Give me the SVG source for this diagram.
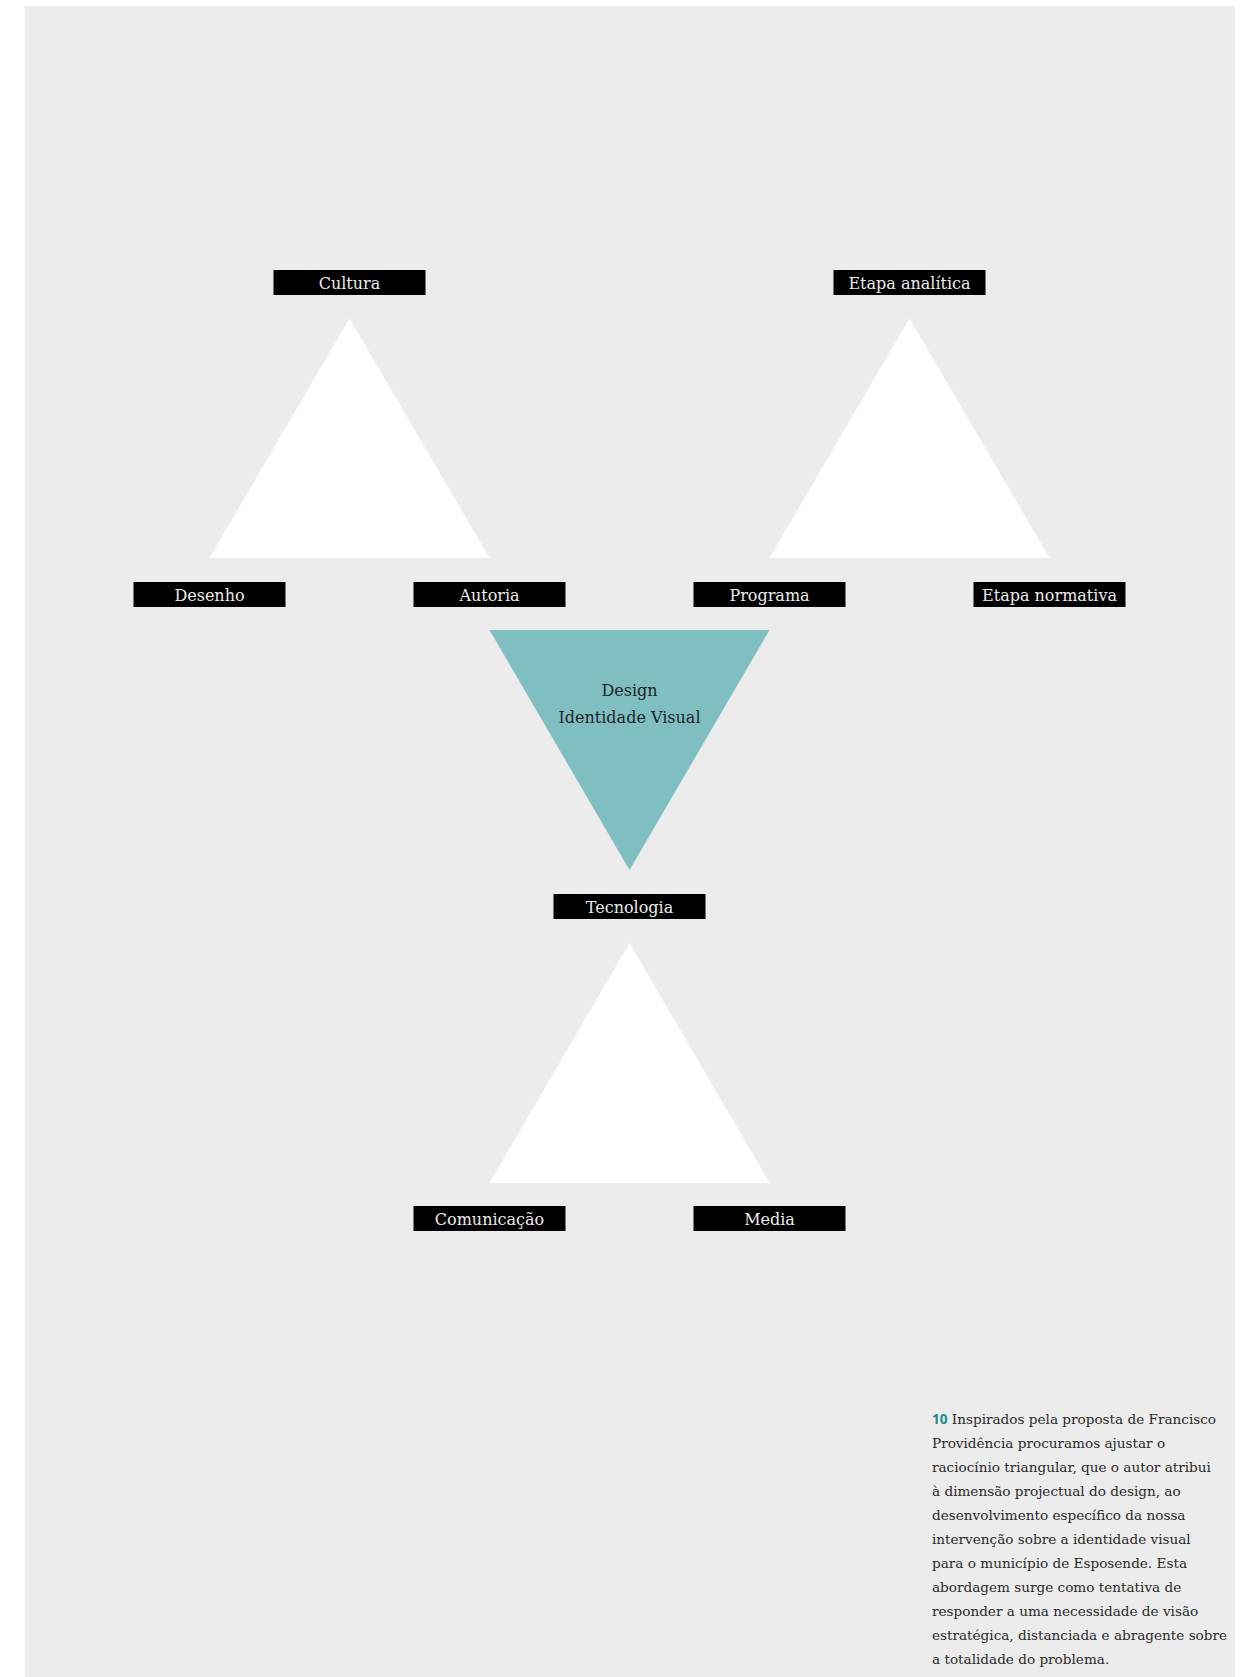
<svg xmlns="http://www.w3.org/2000/svg" width="1250" height="1677" viewBox="0 0 1250 1677">
<style>
.lbl{fill:#000}
.lt{font-family:"DejaVu Serif","Liberation Serif",serif;font-size:16px;fill:#ebebeb;text-anchor:middle}
.tri{fill:#fff}
.ct{font-family:"DejaVu Serif","Liberation Serif",serif;font-size:16px;fill:#1d2426;text-anchor:middle}
.cap{font-family:"DejaVu Serif","Liberation Serif",serif;font-size:13.6px;fill:#2a2a2a}
.num{font-family:"Open Sans","Liberation Sans",sans-serif;font-weight:bold;fill:#1a8c8e}
</style>
<rect x="0" y="0" width="1250" height="1677" fill="#ffffff"/>
<rect x="24.7" y="6" width="1210.3" height="1671" fill="#ebeceb"/>

<g id="tri-left"><polygon class="tri" points="349.5,318.5 209.5,558 489.5,558"/></g>
<g id="tri-right"><polygon class="tri" points="909.5,318.5 769.5,558 1049.5,558"/></g>
<g id="tri-bottom"><polygon class="tri" points="629.5,943 489.5,1183 769.5,1183"/></g>
<g id="tri-center">
<polygon points="489.5,630 769.5,630 629.5,870" fill="#80bfc1"/>
<text class="ct" x="629.5" y="696">Design</text>
<text class="ct" x="629.5" y="722.5">Identidade Visual</text>
</g>

<g id="cultura"><rect class="lbl" x="273.5" y="270" width="152" height="25"/><text class="lt" x="349.5" y="289">Cultura</text></g>
<g id="etapa-analitica"><rect class="lbl" x="833.5" y="270" width="152" height="25"/><text class="lt" x="909.5" y="289">Etapa analítica</text></g>
<g id="desenho"><rect class="lbl" x="133.5" y="582" width="152" height="25"/><text class="lt" x="209.5" y="601">Desenho</text></g>
<g id="autoria"><rect class="lbl" x="413.5" y="582" width="152" height="25"/><text class="lt" x="489.5" y="601">Autoria</text></g>
<g id="programa"><rect class="lbl" x="693.5" y="582" width="152" height="25"/><text class="lt" x="769.5" y="601">Programa</text></g>
<g id="etapa-normativa"><rect class="lbl" x="973.5" y="582" width="152" height="25"/><text class="lt" x="1049.5" y="601">Etapa normativa</text></g>
<g id="tecnologia"><rect class="lbl" x="553.5" y="894" width="152" height="25"/><text class="lt" x="629.5" y="913">Tecnologia</text></g>
<g id="comunicacao"><rect class="lbl" x="413.5" y="1206" width="152" height="25"/><text class="lt" x="489.5" y="1225">Comunicação</text></g>
<g id="media"><rect class="lbl" x="693.5" y="1206" width="152" height="25"/><text class="lt" x="769.5" y="1225">Media</text></g>

<g id="connectors"></g>

<g id="caption" class="cap">
<text x="932" y="1423.5"><tspan class="num">10</tspan> Inspirados pela proposta de Francisco</text>
<text x="932" y="1447.5">Providência procuramos ajustar o</text>
<text x="932" y="1471.5">raciocínio triangular, que o autor atribui</text>
<text x="932" y="1495.5">à dimensão projectual do design, ao</text>
<text x="932" y="1519.5">desenvolvimento específico da nossa</text>
<text x="932" y="1543.5">intervenção sobre a identidade visual</text>
<text x="932" y="1567.5">para o município de Esposende. Esta</text>
<text x="932" y="1591.5">abordagem surge como tentativa de</text>
<text x="932" y="1615.5">responder a uma necessidade de visão</text>
<text x="932" y="1639.5">estratégica, distanciada e abragente sobre</text>
<text x="932" y="1663.5">a totalidade do problema.</text>
</g>
</svg>
